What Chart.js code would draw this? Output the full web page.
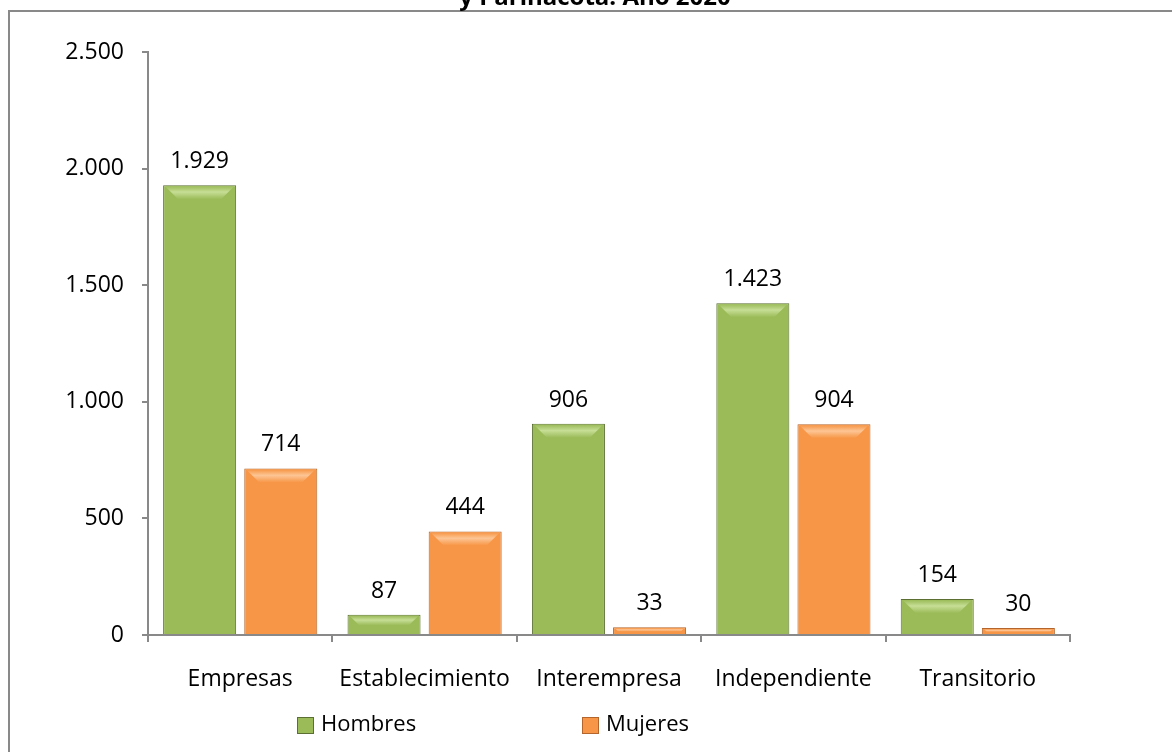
<!DOCTYPE html>
<html>
<head>
<meta charset="utf-8">
<script src="https://cdn.jsdelivr.net/npm/chart.js@4.4.1/dist/chart.umd.min.js"></script>
<style>
  html, body { margin: 0; padding: 0; background: #fff; }
  #wrap { position: relative; width: 1172px; height: 752px; }
</style>
</head>
<body>
<div id="wrap"><canvas id="chart" width="1172" height="752"></canvas></div>
<script>
const categories = ['Empresas', 'Establecimiento', 'Interempresa', 'Independiente', 'Transitorio'];
const hombres = [1929, 87, 906, 1423, 154];
const mujeres = [714, 444, 33, 904, 30];
const yTicks = [0, 500, 1000, 1500, 2000, 2500];
const titleLine = 'y Parinacota. Año 2020';

const FONT = "'Open Sans', 'Noto Sans', sans-serif";
const fmt = v => v.toLocaleString('de-DE');

// frame + cut-off title line
const framePlugin = {
    id: 'frame',
    beforeDraw(chart) {
        const ctx = chart.ctx;
        ctx.save();
        ctx.strokeStyle = '#898989';
        ctx.lineWidth = 2;
        ctx.strokeRect(9, 11, 1300, 900);
        ctx.fillStyle = '#000';
        ctx.font = 'bold 24px ' + FONT;
        ctx.textAlign = 'center';
        ctx.textBaseline = 'alphabetic';
        ctx.fillText(titleLine, 595, 5);
        ctx.restore();
    }
};

// bevel highlight on top of bars + value labels
const barDecor = {
    id: 'barDecor',
    afterDatasetsDraw(chart) {
        const ctx = chart.ctx;
        chart.data.datasets.forEach((ds, i) => {
            chart.getDatasetMeta(i).data.forEach((bar, j) => {
                const left = bar.x - bar.width / 2, right = bar.x + bar.width / 2;
                const top = bar.y, h = bar.base - bar.y;
                const bh = Math.min(13, h / 2);
                ctx.save();
                const g = ctx.createLinearGradient(0, top + 1, 0, top + 1 + bh);
                g.addColorStop(0, ds.hi2);
                g.addColorStop(0.45, ds.hi1);
                g.addColorStop(1, ds.hi2);
                ctx.fillStyle = g;
                ctx.beginPath();
                ctx.moveTo(left + 2, top + 1);
                ctx.lineTo(right - 2, top + 1);
                ctx.lineTo(right - 2 - bh, top + 1 + bh);
                ctx.lineTo(left + 2 + bh, top + 1 + bh);
                ctx.closePath();
                ctx.fill();
                ctx.restore();

                ctx.save();
                ctx.fillStyle = '#000';
                ctx.font = '23px ' + FONT;
                ctx.textAlign = 'center';
                ctx.textBaseline = 'alphabetic';
                ctx.fillText(fmt(ds.data[j]), bar.x, top - 17);
                ctx.restore();
            });
        });
    }
};

// legend drawn at fixed slots under the axis
const legendPlugin = {
    id: 'customLegend',
    afterDraw(chart) {
        const ctx = chart.ctx;
        const xs = [297, 582];
        ctx.save();
        ctx.font = '22px ' + FONT;
        ctx.textBaseline = 'middle';
        chart.data.datasets.forEach((ds, i) => {
            const x = xs[i], y = 725;
            ctx.fillStyle = ds.backgroundColor;
            ctx.fillRect(x, y - 8, 17, 17);
            ctx.strokeStyle = ds.borderColor;
            ctx.lineWidth = 1;
            ctx.strokeRect(x + 0.5, y - 7.5, 16, 16);
            ctx.fillStyle = '#000';
            ctx.fillText(ds.label, x + 24, y);
        });
        ctx.restore();
    }
};

new Chart(document.getElementById('chart'), {
    type: 'bar',
    data: {
        labels: categories,
        datasets: [
            { label: 'Hombres', data: hombres, backgroundColor: '#9BBB59', borderColor: '#5a6f31', borderWidth: 1,
              hi1: '#c6de95', hi2: '#9BBB59', barPercentage: 0.9, categoryPercentage: 0.88 },
            { label: 'Mujeres', data: mujeres, backgroundColor: '#F79646', borderColor: '#b3652c', borderWidth: 1,
              hi1: '#fdc595', hi2: '#F79646', barPercentage: 0.9, categoryPercentage: 0.88 }
        ]
    },
    options: {
        responsive: false,
        animation: false,
        layout: { padding: { top: 52, right: 102, left: 0, bottom: 0 } },
        plugins: { legend: { display: false }, tooltip: { enabled: false } },
        scales: {
            x: {
                grid: { display: true, drawOnChartArea: false, offset: true, tickLength: 7, color: '#898989', lineWidth: 2 },
                border: { color: '#898989', width: 2 },
                ticks: { color: '#000', font: { size: 23, family: FONT }, padding: 24 },
                afterFit(scale) { scale.height = 117; }
            },
            y: {
                min: 0, max: 2500,
                afterBuildTicks(scale) { scale.ticks = yTicks.map(v => ({ value: v })); },
                grid: { display: true, drawOnChartArea: false, tickLength: 6, color: '#898989', lineWidth: 2 },
                border: { color: '#898989', width: 2 },
                ticks: { color: '#000', font: { size: 23, family: FONT }, padding: 18, callback: v => fmt(v) },
                afterFit(scale) { scale.width = 148; }
            }
        }
    },
    plugins: [framePlugin, barDecor, legendPlugin]
});
</script>
</body>
</html>
